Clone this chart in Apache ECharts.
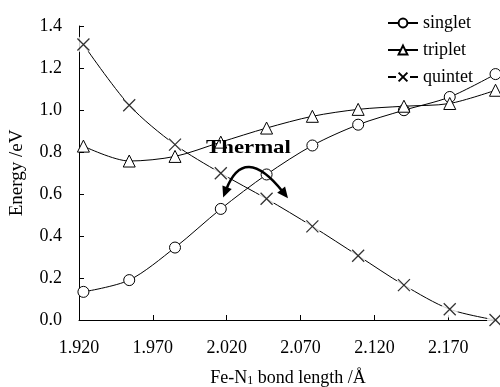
<!DOCTYPE html>
<html>
<head>
<meta charset="utf-8">
<script src="https://cdn.jsdelivr.net/npm/echarts@6/dist/echarts.min.js"></script>
<style>
  html, body { margin: 0; padding: 0; background: #fff; }
  #chart { width: 500px; height: 387px; }
</style>
</head>
<body>
<div id="chart"></div>
<script>
const bondLength = [1.923, 1.954, 1.985, 2.016, 2.047, 2.078, 2.109, 2.140, 2.171, 2.202];
const singlet = [0.134, 0.19, 0.345, 0.529, 0.693, 0.831, 0.930, 0.999, 1.062, 1.171];
const triplet = [0.828, 0.757, 0.779, 0.847, 0.914, 0.970, 1.003, 1.018, 1.031, 1.094];
const quintet = [1.312, 1.023, 0.835, 0.699, 0.577, 0.446, 0.306, 0.166, 0.051, 0.0];
const xTicks = [1.92, 1.97, 2.02, 2.07, 2.12, 2.17];

const FONT = "'Liberation Serif', 'DejaVu Serif', serif";
const CROSS = "path://M0,0L10,10M10,0L0,10";

const pairs = (ys) => bondLength.map((x, i) => [x, ys[i]]);

// arrowhead polygon at the end of a curve, pointing along (dx, dy)
function arrowHead(x, y, dx, dy) {
  const len = Math.hypot(dx, dy);
  const ux = dx / len, uy = dy / len;
  const tipX = x + ux * 8, tipY = y + uy * 8;
  const backX = x - ux * 3, backY = y - uy * 3;
  return [
    [tipX, tipY],
    [backX - uy * 5, backY + ux * 5],
    [backX + uy * 5, backY - ux * 5],
  ];
}

const chart = echarts.init(document.getElementById("chart"));

const markerStyle = { color: "#fff", borderColor: "#000", borderWidth: 1 };
const crossStyle = { color: "#fff", borderColor: "#000", borderWidth: 1.3 };

chart.setOption({
  animation: false,
  textStyle: { fontFamily: FONT, color: "#000" },
  grid: { left: 79, right: 3, top: 26, bottom: 67, outerBoundsMode: "none" },
  legend: {
    orient: "vertical",
    left: 382,
    top: 9,
    itemWidth: 30,
    itemHeight: 11,
    itemGap: 9,
    textStyle: { fontFamily: FONT, fontSize: 18, color: "#000" },
    data: [
      "singlet",
      "triplet",
      { name: "quintet", lineStyle: { type: [8, 14] } },
    ],
  },
  xAxis: {
    type: "value",
    min: 1.92,
    max: 2.203,
    interval: 0.05,
    name: "Fe-N{sub|1} bond length /Å",
    nameLocation: "middle",
    nameGap: 49,
    nameTextStyle: {
      fontFamily: FONT,
      fontSize: 18,
      color: "#000",
      rich: { sub: { fontFamily: FONT, fontSize: 12, verticalAlign: "bottom", padding: [6, 0, 0, 0], color: "#000" } },
    },
    axisLine: { onZero: false, lineStyle: { color: "#000", width: 1 } },
    axisTick: { inside: true, length: 5, customValues: xTicks, lineStyle: { color: "#000" } },
    axisLabel: {
      customValues: xTicks,
      margin: 19,
      fontSize: 18,
      fontFamily: FONT,
      color: "#000",
      formatter: (v) => v.toFixed(3),
    },
    splitLine: { show: false },
  },
  yAxis: {
    type: "value",
    min: 0,
    max: 1.4,
    interval: 0.2,
    name: "Energy /eV",
    nameLocation: "middle",
    nameGap: 52,
    nameTextStyle: { fontFamily: FONT, fontSize: 19, color: "#000" },
    axisLine: { show: true, lineStyle: { color: "#000", width: 1 } },
    axisTick: { show: true, inside: true, length: 5, lineStyle: { color: "#000" } },
    axisLabel: {
      margin: 17,
      fontSize: 18,
      fontFamily: FONT,
      color: "#000",
      formatter: (v) => v.toFixed(1),
    },
    splitLine: { show: false },
  },
  series: [
    {
      type: "line",
      name: "quintet",
      smooth: 0.3,
      symbol: CROSS,
      symbolSize: 12,
      showSymbol: false,
      z: 2,
      itemStyle: crossStyle,
      data: pairs(quintet),
      lineStyle: { color: "#000", width: 1 },
    },
    {
      // white halo that breaks the quintet line around its markers
      type: "scatter",
      name: "quintet-gap",
      symbol: "circle",
      symbolSize: 17,
      silent: true,
      z: 3,
      itemStyle: { color: "#fff" },
      data: pairs(quintet),
    },
    {
      type: "scatter",
      name: "quintet",
      symbol: CROSS,
      symbolSize: 12,
      silent: true,
      z: 4,
      itemStyle: crossStyle,
      data: pairs(quintet),
    },
    {
      type: "line",
      name: "singlet",
      smooth: 0.3,
      symbol: "circle",
      symbolSize: 11,
      z: 5,
      itemStyle: markerStyle,
      data: pairs(singlet),
      lineStyle: { color: "#000", width: 1 },
    },
    {
      type: "line",
      name: "triplet",
      smooth: 0.3,
      symbol: "triangle",
      symbolSize: 12,
      z: 5,
      itemStyle: markerStyle,
      data: pairs(triplet),
      lineStyle: { color: "#000", width: 1 },
    },
  ],
  graphic: [
    {
      type: "text",
      x: 206,
      y: 139,
      scaleX: 1.2,
      z: 10,
      style: { text: "Thermal", font: "bold 19px " + FONT, fill: "#000" },
    },
    {
      type: "bezierCurve",
      z: 10,
      shape: { x1: 226, y1: 190, cpx1: 244, cpy1: 143, x2: 283, y2: 192 },
      style: { stroke: "#000", lineWidth: 2.5, fill: null },
    },
    {
      type: "polygon",
      z: 10,
      shape: { points: arrowHead(226, 190, 226 - 244, 190 - 143) },
      style: { fill: "#000" },
    },
    {
      type: "polygon",
      z: 10,
      shape: { points: arrowHead(283, 192, 283 - 244, 192 - 143) },
      style: { fill: "#000" },
    },
  ],
});
</script>
</body>
</html>
